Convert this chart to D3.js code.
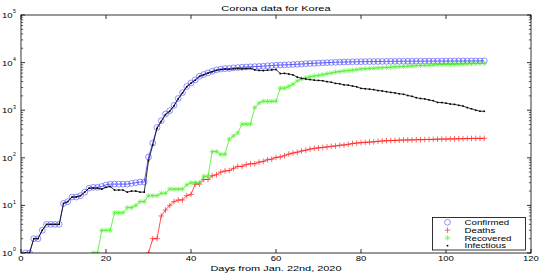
<!DOCTYPE html>
<html><head><meta charset="utf-8">
<script src="https://cdn.jsdelivr.net/npm/d3@7"></script>
<style>body{margin:0;background:#fff}text{font-family:"Liberation Sans",Arial,sans-serif}</style>
</head><body><svg id="c" width="545" height="273"></svg>
<script>
const confirmed=[1,1,2,2,3,4,4,4,4,11,12,15,15,16,19,23,24,24,25,27,28,28,28,28,28,29,30,31,31,104,204,433,602,833,977,1261,1766,2337,3150,3736,4335,5186,5621,6088,6593,7041,7314,7478,7513,7755,7869,7979,8086,8162,8236,8320,8413,8565,8652,8799,8897,8961,9037,9137,9241,9332,9478,9583,9661,9786,9887,9976,10062,10156,10237,10284,10331,10384,10423,10450,10480,10512,10537,10564,10591,10613,10635,10653,10661,10674,10683,10694,10708,10718,10728,10738,10752,10761,10765,10774,10780,10793,10801,10804,10806,10810,10822,10840,10874];
const deaths=[0,0,0,0,0,0,0,0,0,0,0,0,0,0,0,0,0,0,0,0,0,0,0,0,0,0,0,0,0,1,2,2,6,8,10,12,13,13,16,17,28,28,35,35,42,44,50,53,54,60,66,66,72,75,75,81,84,91,94,102,104,111,120,126,131,139,144,152,158,162,165,169,174,177,183,186,192,200,204,208,211,214,217,222,225,229,230,232,234,236,237,238,240,240,242,243,244,246,247,247,250,250,252,252,254,255,256,256,256];
const recovered=[0,0,0,0,0,0,0,0,0,0,0,0,0,0,0,0,1,1,3,3,3,7,7,7,9,9,10,12,12,16,16,16,18,18,22,22,22,22,27,30,30,30,41,41,135,135,118,118,247,288,333,510,510,510,1137,1407,1540,1540,1540,1540,2909,2909,3166,3507,4144,4528,4811,5033,5228,5408,5567,5828,6021,6325,6463,6694,6776,6973,7117,7368,7447,7534,7616,7757,7829,7937,8042,8114,8213,8277,8411,8501,8635,8717,8764,8854,8922,9059,9072,9123,9183,9218,9283,9333,9419,9484,9568,9632,9670];
const infectious=[1,1,2,2,3,4,4,4,4,11,12,15,15,16,19,23,23,23,22,24,25,21,21,21,19,20,20,19,19,87,186,415,578,807,945,1227,1731,2302,3107,3689,4277,5128,5545,6012,6416,6862,7146,7307,7212,7407,7470,7403,7504,7577,7024,6832,6789,6934,7018,7157,5884,5941,5751,5504,4966,4665,4523,4398,4275,4216,4155,3979,3867,3654,3591,3404,3363,3211,3102,2874,2822,2764,2704,2585,2537,2447,2363,2307,2214,2161,2035,1955,1833,1761,1722,1641,1586,1456,1446,1404,1347,1325,1266,1219,1133,1071,998,952,948];
const xTicks=[0,20,40,60,80,100,120];
const yExps=[0,1,2,3,4,5];
const seriesNames=["Confirmed","Deaths","Recovered","Infectious"];
const title="Corona data for Korea";
const xLabel="Days from Jan. 22nd, 2020";

const svg=d3.select("#c");
const L=21,R=531,T=15,B=253;
const x=d3.scaleLinear().domain([0,120]).range([L,R]);
const y=d3.scaleLog().domain([1,1e5]).range([B,T]);

function widen(sel,k){
  sel.each(function(){const w=this.getComputedTextLength();d3.select(this).attr("textLength",w*k).attr("lengthAdjust","spacingAndGlyphs");});
  return sel;
}

const series=[
 {name:seriesNames[0],data:confirmed,color:"#3c3cff",marker:"o"},
 {name:seriesNames[1],data:deaths,color:"#ff2222",marker:"+"},
 {name:seriesNames[2],data:recovered,color:"#44f020",marker:"*"},
 {name:seriesNames[3],data:infectious,color:"#000",marker:"."}
];
svg.append("defs").append("clipPath").attr("id","cl").append("rect").attr("x",L).attr("y",T-4).attr("width",R-L).attr("height",B-T+4);

function drawMarker(g,m,cx,cy,color){
  if(m==="o") g.append("circle").attr("cx",cx).attr("cy",cy).attr("r",2.9).attr("fill","none").attr("stroke",color).attr("stroke-width",0.7).attr("opacity",0.8);
  else if(m==="+") g.append("path").attr("d",`M${cx-2.8},${cy}H${cx+2.8}M${cx},${cy-2.8}V${cy+2.8}`).attr("stroke",color).attr("stroke-width",0.8).attr("opacity",0.85);
  else if(m==="*") g.append("path").attr("d",`M${cx-2.6},${cy}H${cx+2.6}M${cx},${cy-2.6}V${cy+2.6}M${cx-1.9},${cy-1.9}L${cx+1.9},${cy+1.9}M${cx-1.9},${cy+1.9}L${cx+1.9},${cy-1.9}`).attr("stroke",color).attr("stroke-width",0.7).attr("opacity",0.8);
  else g.append("rect").attr("x",cx-0.8).attr("y",cy-0.8).attr("width",1.6).attr("height",1.6).attr("fill",color);
}

const plot=svg.append("g").attr("clip-path","url(#cl)");
series.forEach(s=>{
  const pts=s.data.map((v,i)=>[i+1,v]).filter(p=>p[1]>0);
  const line=d3.line().x(p=>x(p[0])).y(p=>y(p[1]));
  const g=plot.append("g");
  pts.forEach(p=>drawMarker(g,s.marker,x(p[0]),y(p[1]),s.color));
  g.append("path").attr("d",line(pts)).attr("fill","none").attr("stroke",s.color).attr("stroke-width",0.8);
});

const ax=svg.append("g");
ax.append("rect").attr("x",L).attr("y",T).attr("width",R-L).attr("height",B-T).attr("fill","none").attr("stroke","#000").attr("stroke-width",0.8);
xTicks.forEach(t=>{
  ax.append("line").attr("x1",x(t)).attr("x2",x(t)).attr("y1",B).attr("y2",B-4).attr("stroke","#000").attr("stroke-width",0.8);
  ax.append("line").attr("x1",x(t)).attr("x2",x(t)).attr("y1",T).attr("y2",T+4).attr("stroke","#000").attr("stroke-width",0.8);
  widen(ax.append("text").attr("x",x(t)).attr("y",B+8.2).attr("text-anchor","middle").attr("font-size",7.8).text(t),1.22);
});
yExps.forEach(e=>{
  const v=Math.pow(10,e);
  [[L,L+4],[R,R-4]].forEach(([a,b])=>ax.append("line").attr("x1",a).attr("x2",b).attr("y1",y(v)).attr("y2",y(v)).attr("stroke","#000").attr("stroke-width",0.8));
  if(e<5) for(let k=2;k<10;k++){
    const yy=y(k*v);
    [[L,L+2.2],[R,R-2.2]].forEach(([a,b])=>ax.append("line").attr("x1",a).attr("x2",b).attr("y1",yy).attr("y2",yy).attr("stroke","#000").attr("stroke-width",0.6));
  }
  widen(ax.append("text").attr("x",2).attr("y",y(v)+3).attr("font-size",7.8).text("10"),1.22);
  ax.append("text").attr("x",13).attr("y",y(v)-1.6).attr("font-size",5.2).text(e);
});
widen(svg.append("text").attr("x",(L+R)/2).attr("y",10.5).attr("text-anchor","middle").attr("font-size",8).text(title),1.38);
widen(svg.append("text").attr("x",(L+R)/2).attr("y",270.5).attr("text-anchor","middle").attr("font-size",7.8).text(xLabel),1.4);

const lg=svg.append("g");
lg.append("rect").attr("x",432.5).attr("y",217.5).attr("width",93).attr("height",32.5).attr("fill","#fff").attr("stroke","#000").attr("stroke-width",0.8);
series.forEach((s,i)=>{
  const yy=222.3+i*7.8;
  drawMarker(lg,s.marker,447.5,yy,s.color);
  widen(lg.append("text").attr("x",464.5).attr("y",yy+2.7).attr("font-size",7.2).text(s.name),1.35);
});
</script></body></html>
